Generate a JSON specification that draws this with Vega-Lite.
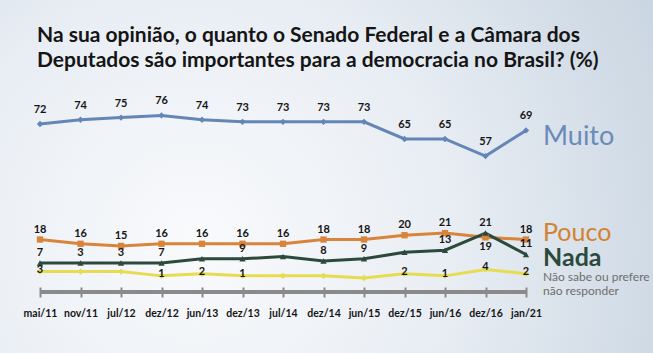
{
  "$schema": "https://vega.github.io/schema/vega-lite/v6.json",
  "width": 653,
  "height": 353,
  "autosize": {"type": "none"},
  "padding": 0,
  "background": "#dde4ec",
  "view": {
    "stroke": null,
    "fill": {
      "gradient": "radial",
      "x1": 0.3, "y1": 0.6, "r1": 0,
      "x2": 0.3, "y2": 0.6, "r2": 0.85,
      "stops": [
        {"offset": 0, "color": "#f9fafc"},
        {"offset": 0.45, "color": "#e9eef4"},
        {"offset": 1, "color": "#c5d2df"}
      ]
    }
  },
  "title": {
    "text": ["Na sua opinião, o quanto o Senado Federal e a Câmara dos", "Deputados são importantes para a democracia no Brasil? (%)"],
    "anchor": "start",
    "frame": "group",
    "orient": "top",
    "offset": 0,
    "baseline": "top",
    "dx": 37,
    "dy": 71,
    "font": "Lato",
    "fontSize": 21,
    "fontWeight": "bold",
    "lineHeight": 25,
    "color": "#151515"
  },
  "data": {
    "values": [
      {"d": "mai/11", "s": "Muito", "v": 72, "lab": "72"},
      {"d": "nov/11", "s": "Muito", "v": 74, "lab": "74"},
      {"d": "jul/12", "s": "Muito", "v": 75, "lab": "75"},
      {"d": "dez/12", "s": "Muito", "v": 76, "lab": "76"},
      {"d": "jun/13", "s": "Muito", "v": 74, "lab": "74"},
      {"d": "dez/13", "s": "Muito", "v": 73, "lab": "73"},
      {"d": "jul/14", "s": "Muito", "v": 73, "lab": "73"},
      {"d": "dez/14", "s": "Muito", "v": 73, "lab": "73"},
      {"d": "jun/15", "s": "Muito", "v": 73, "lab": "73"},
      {"d": "dez/15", "s": "Muito", "v": 65, "lab": "65"},
      {"d": "jun/16", "s": "Muito", "v": 65, "lab": "65"},
      {"d": "dez/16", "s": "Muito", "v": 57, "lab": "57"},
      {"d": "jan/21", "s": "Muito", "v": 69, "lab": "69"},
      {"d": "mai/11", "s": "Pouco", "v": 18, "lab": "18"},
      {"d": "nov/11", "s": "Pouco", "v": 16, "lab": "16"},
      {"d": "jul/12", "s": "Pouco", "v": 15, "lab": "15"},
      {"d": "dez/12", "s": "Pouco", "v": 16, "lab": "16"},
      {"d": "jun/13", "s": "Pouco", "v": 16, "lab": "16"},
      {"d": "dez/13", "s": "Pouco", "v": 16, "lab": "16"},
      {"d": "jul/14", "s": "Pouco", "v": 16, "lab": "16"},
      {"d": "dez/14", "s": "Pouco", "v": 18, "lab": "18"},
      {"d": "jun/15", "s": "Pouco", "v": 18, "lab": "18"},
      {"d": "dez/15", "s": "Pouco", "v": 20, "lab": "20"},
      {"d": "jun/16", "s": "Pouco", "v": 21, "lab": "21"},
      {"d": "dez/16", "s": "Pouco", "v": 19, "lab": "19"},
      {"d": "jan/21", "s": "Pouco", "v": 18, "lab": "18"},
      {"d": "mai/11", "s": "Nada", "v": 7, "lab": "7"},
      {"d": "nov/11", "s": "Nada", "v": 7, "lab": "3"},
      {"d": "jul/12", "s": "Nada", "v": 7, "lab": "3"},
      {"d": "dez/12", "s": "Nada", "v": 7, "lab": "7"},
      {"d": "jun/13", "s": "Nada", "v": 9, "lab": ""},
      {"d": "dez/13", "s": "Nada", "v": 9, "lab": "9"},
      {"d": "jul/14", "s": "Nada", "v": 10, "lab": ""},
      {"d": "dez/14", "s": "Nada", "v": 8, "lab": "8"},
      {"d": "jun/15", "s": "Nada", "v": 9, "lab": "9"},
      {"d": "dez/15", "s": "Nada", "v": 12, "lab": ""},
      {"d": "jun/16", "s": "Nada", "v": 13, "lab": "13"},
      {"d": "dez/16", "s": "Nada", "v": 21, "lab": "21"},
      {"d": "jan/21", "s": "Nada", "v": 11, "lab": "11"},
      {"d": "mai/11", "s": "Não sabe ou prefere\nnão responder", "v": 3, "lab": "3"},
      {"d": "nov/11", "s": "Não sabe ou prefere\nnão responder", "v": 3, "lab": ""},
      {"d": "jul/12", "s": "Não sabe ou prefere\nnão responder", "v": 3, "lab": ""},
      {"d": "dez/12", "s": "Não sabe ou prefere\nnão responder", "v": 1, "lab": "1"},
      {"d": "jun/13", "s": "Não sabe ou prefere\nnão responder", "v": 2, "lab": "2"},
      {"d": "dez/13", "s": "Não sabe ou prefere\nnão responder", "v": 1, "lab": "1"},
      {"d": "jul/14", "s": "Não sabe ou prefere\nnão responder", "v": 1, "lab": ""},
      {"d": "dez/14", "s": "Não sabe ou prefere\nnão responder", "v": 1, "lab": ""},
      {"d": "jun/15", "s": "Não sabe ou prefere\nnão responder", "v": 0, "lab": ""},
      {"d": "dez/15", "s": "Não sabe ou prefere\nnão responder", "v": 2, "lab": "2"},
      {"d": "jun/16", "s": "Não sabe ou prefere\nnão responder", "v": 1, "lab": "1"},
      {"d": "dez/16", "s": "Não sabe ou prefere\nnão responder", "v": 4, "lab": "4"},
      {"d": "jan/21", "s": "Não sabe ou prefere\nnão responder", "v": 2, "lab": "2"}
    ]
  },
  "encoding": {
    "x": {
      "field": "d",
      "type": "ordinal",
      "sort": ["mai/11", "nov/11", "jul/12", "dez/12", "jun/13", "dez/13", "jul/14", "dez/14", "jun/15", "dez/15", "jun/16", "dez/16", "jan/21"],
      "scale": {"type": "point", "range": [40, 526], "padding": 0},
      "axis": {
        "title": null,
        "orient": "bottom",
        "offset": -66,
        "domain": false,
        "ticks": true,
        "tickSize": 10,
        "tickWidth": 2,
        "tickColor": "#8a8a8a",
        "labelAngle": 0,
        "labelFont": "Lato",
        "labelFontSize": 10.5,
        "labelFontWeight": "bold",
        "labelColor": "#151515",
        "labelPadding": 11
      }
    },
    "y": {
      "field": "v",
      "type": "quantitative",
      "scale": {"domain": [-35.06, 129.97], "nice": false, "zero": false},
      "axis": null
    }
  },
  "layer": [
    {
      "mark": {"type": "rule", "color": "#8a8a8a", "strokeWidth": 3},
      "encoding": {
        "x": {"datum": "mai/11"},
        "x2": {"datum": "jan/21"},
        "y": {"datum": -6.5}
      }
    },
    {
      "mark": {"type": "line", "strokeWidth": 3},
      "encoding": {
        "color": {
          "field": "s",
          "type": "nominal",
          "scale": {
            "domain": ["Muito", "Pouco", "Nada", "Não sabe ou prefere\nnão responder"],
            "range": ["#6486b6", "#d8843a", "#2b4a3c", "#e6dc50"]
          },
          "legend": null
        }
      }
    },
    {
      "mark": {"type": "point", "filled": true, "size": 40, "opacity": 1},
      "encoding": {
        "color": {"field": "s", "type": "nominal", "legend": null},
        "shape": {
          "field": "s",
          "type": "nominal",
          "scale": {
            "domain": ["Muito", "Pouco", "Nada", "Não sabe ou prefere\nnão responder"],
            "range": ["diamond", "square", "triangle-up", "diamond"]
          },
          "legend": null
        }
      }
    },
    {
      "transform": [{"filter": "datum.s == 'Muito'"}],
      "mark": {"type": "text", "font": "Lato", "fontSize": 11, "fontWeight": "bold", "color": "#151515", "dy": -14, "baseline": "middle"},
      "encoding": {"text": {"field": "lab"}}
    },
    {
      "transform": [{"filter": "(datum.s == 'Pouco' && datum.d != 'dez/16') || datum.s == 'Nada'"}],
      "mark": {"type": "text", "font": "Lato", "fontSize": 11, "fontWeight": "bold", "color": "#151515", "dy": -10, "baseline": "middle"},
      "encoding": {"text": {"field": "lab"}}
    },
    {
      "transform": [{"filter": "datum.s == 'Pouco' && datum.d == 'dez/16'"}],
      "mark": {"type": "text", "font": "Lato", "fontSize": 11, "fontWeight": "bold", "color": "#151515", "dy": 10, "baseline": "middle"},
      "encoding": {"text": {"field": "lab"}}
    },
    {
      "transform": [{"filter": "datum.s != 'Muito' && datum.s != 'Pouco' && datum.s != 'Nada'"}],
      "mark": {"type": "text", "font": "Lato", "fontSize": 11, "fontWeight": "bold", "color": "#151515", "dy": -2, "baseline": "middle"},
      "encoding": {"text": {"field": "lab"}}
    },
    {
      "transform": [{"filter": "datum.d == 'jan/21' && datum.s == 'Muito'"}],
      "mark": {"type": "text", "font": "Lato", "fontSize": 27, "color": "#6a8bba", "align": "left", "baseline": "middle", "dx": 17, "dy": 7},
      "encoding": {"text": {"field": "s"}}
    },
    {
      "transform": [{"filter": "datum.d == 'jan/21' && datum.s == 'Pouco'"}],
      "mark": {"type": "text", "font": "Lato", "fontSize": 25, "color": "#d3822f", "align": "left", "baseline": "middle", "dx": 17, "dy": -7},
      "encoding": {"text": {"field": "s"}}
    },
    {
      "transform": [{"filter": "datum.d == 'jan/21' && datum.s == 'Nada'"}],
      "mark": {"type": "text", "font": "Lato", "fontSize": 25, "fontWeight": "bold", "color": "#2b4a3c", "align": "left", "baseline": "middle", "dx": 17, "dy": 4},
      "encoding": {"text": {"field": "s"}}
    },
    {
      "transform": [{"filter": "datum.d == 'jan/21' && datum.s != 'Muito' && datum.s != 'Pouco' && datum.s != 'Nada'"}],
      "mark": {"type": "text", "font": "Lato", "fontSize": 12, "color": "#6e6e6e", "align": "left", "baseline": "top", "lineBreak": "\n", "lineHeight": 14, "dx": 17, "dy": -2},
      "encoding": {"text": {"field": "s"}}
    }
  ]
}
